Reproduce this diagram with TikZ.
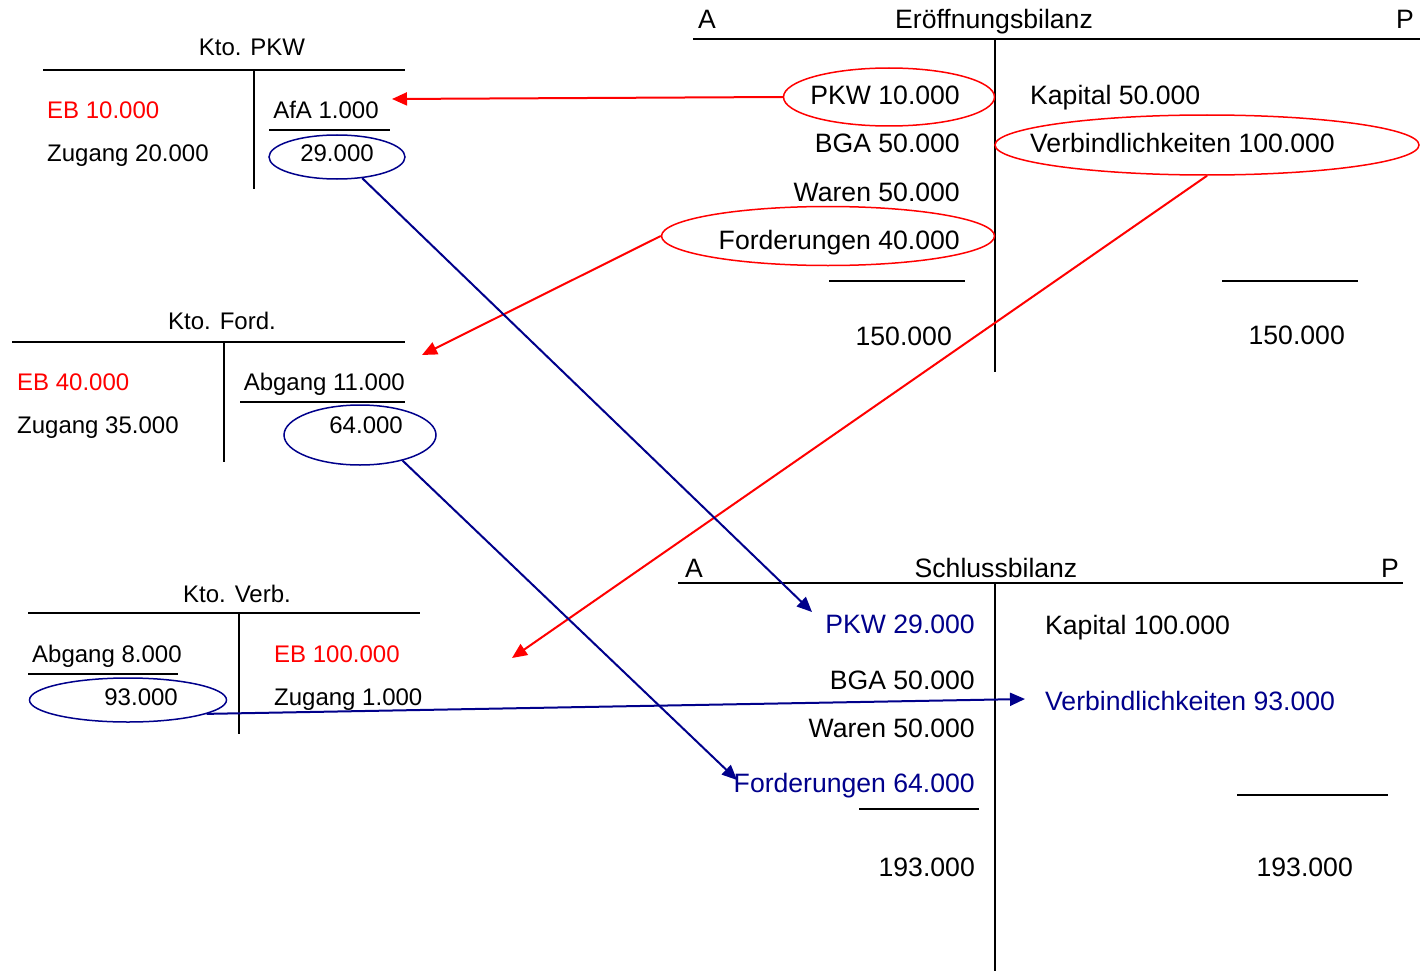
\documentclass[tikz,border=0pt]{standalone}
\usepackage{fontspec}
\setmainfont{Liberation Sans}
\usetikzlibrary{arrows.meta,shapes.geometric}
\definecolor{nav}{RGB}{0,0,139}
\definecolor{rd}{RGB}{255,0,0}
\begin{document}
\begin{tikzpicture}[x=1pt,y=-1pt,
 big/.style={font=\fontsize{26.6}{30}\selectfont,inner sep=0pt},
 sm/.style={font=\fontsize{24}{28}\selectfont,inner sep=0pt},
 rule/.style={line width=1.6pt,black},
 oval/.style={ellipse,draw,line width=1.5pt,inner sep=0pt},
 rarr/.style={line width=2pt,rd,-{Triangle[length=15pt,width=13pt]}},
 barr/.style={line width=2pt,nav,-{Triangle[length=15pt,width=13pt]}},
]
\useasboundingbox (0,0) rectangle (1426,971);

% ---------- Kto. PKW ----------
\node[sm,anchor=base] (tpkw) at (252,56) {Kto. PKW};
\node[sm,anchor=base west,text=rd] (pkweb) at (47,118) {EB 10.000};
\node[sm,anchor=base west] (pkwzu) at (47,161) {Zugang 20.000};
\node[sm,anchor=base] (pkwafa) at (326,118) {AfA 1.000};
\node[sm,anchor=base] (pkw29) at (337,161) {29.000};
\draw[rule] (43,70) -- (405,70);
\draw[rule] (254,70) -- (254,189);
\draw[rule] (269,130) -- (390,130);
\node[oval,nav,minimum width=136pt,minimum height=44pt] (e29) at (337,157) {};

% ---------- Eröffnungsbilanz ----------
\node[big,anchor=base west] (ea) at (698,29) {A};
\node[big,anchor=base] (etitle) at (994,29) {Eröffnungsbilanz};
\node[big,anchor=base east] (ep) at (1414,29) {P};
\draw[rule] (693,39) -- (1420,39);
\draw[rule] (995,39) -- (995,372);
\node[big,anchor=base east] (epkw) at (960,105) {PKW 10.000};
\node[big,anchor=base east] (ebga) at (960,153) {BGA 50.000};
\node[big,anchor=base east] (ewar) at (960,201) {Waren 50.000};
\node[big,anchor=base east] (eford) at (960,249) {Forderungen 40.000};
\node[big,anchor=base west] (ekap) at (1030,105) {Kapital 50.000};
\node[big,anchor=base west] (everb) at (1030,153) {Verbindlichkeiten 100.000};
\draw[rule] (829,281) -- (965,281);
\draw[rule] (1222,281) -- (1358,281);
\node[big,anchor=base east] (esuma) at (952,345) {150.000};
\node[big,anchor=base east] (esump) at (1345,344) {150.000};
\node[oval,rd,minimum width=211pt,minimum height=58pt] (oepkw) at (889,97) {};
\node[oval,rd,minimum width=424pt,minimum height=60pt] (oeverb) at (1207,145) {};
\node[oval,rd,minimum width=333pt,minimum height=59pt] (oeford) at (828,236) {};

% ---------- Kto. Ford. ----------
\node[sm,anchor=base] (tford) at (222,329) {Kto. Ford.};
\draw[rule] (12,342) -- (405,342);
\draw[rule] (224,342) -- (224,462);
\node[sm,anchor=base west,text=rd] (fordeb) at (17,390) {EB 40.000};
\node[sm,anchor=base west] (fordzu) at (17,433) {Zugang 35.000};
\node[sm,anchor=base east] (fordab) at (405,390) {Abgang 11.000};
\draw[rule] (240,402) -- (405,402);
\node[sm,anchor=base east] (ford64) at (403,433) {64.000};
\node[oval,nav,minimum width=152pt,minimum height=60pt] (e64) at (360,435) {};

% ---------- Kto. Verb. ----------
\node[sm,anchor=base] (tverb) at (237,602) {Kto. Verb.};
\draw[rule] (28,613) -- (420,613);
\draw[rule] (239,613) -- (239,734);
\node[sm,anchor=base west] (verbab) at (32,662) {Abgang 8.000};
\draw[rule] (28,674) -- (178,674);
\node[sm,anchor=base east] (verb93) at (178,705) {93.000};
\node[sm,anchor=base west,text=rd] (verbeb) at (274,662) {EB 100.000};
\node[sm,anchor=base west] (verbzu) at (274,705) {Zugang 1.000};
\node[oval,nav,minimum width=197pt,minimum height=44pt] (e93) at (128,700) {};

% ---------- Schlussbilanz ----------
\node[big,anchor=base west] (sa) at (685,577) {A};
\node[big,anchor=base] (stitle) at (996,577) {Schlussbilanz};
\node[big,anchor=base east] (sp) at (1399,577) {P};
\draw[rule] (678,583) -- (1403,583);
\draw[rule] (995,583) -- (995,971);
\node[big,anchor=base east,text=nav] (spkw) at (975,633) {PKW 29.000};
\node[big,anchor=base east] (sbga) at (975,689) {BGA 50.000};
\node[big,anchor=base east] (swar) at (975,737) {Waren 50.000};
\node[big,anchor=base east,text=nav] (sford) at (975,792) {Forderungen 64.000};
\node[big,anchor=base west] (skap) at (1045,634) {Kapital 100.000};
\node[big,anchor=base west,text=nav] (sverb) at (1045,710) {Verbindlichkeiten 93.000};
\draw[rule] (859,809) -- (979,809);
\draw[rule] (1237,795) -- (1388,795);
\node[big,anchor=base east] (ssuma) at (975,876) {193.000};
\node[big,anchor=base east] (ssump) at (1353,876) {193.000};

% ---------- arrow ends ----------
\coordinate (r1) at (392,99);
\coordinate (r2) at (422,355);
\coordinate (r3) at (512,658);
\coordinate (b1) at (812,612);
\coordinate (b2) at (737,780);
\coordinate (b3) at (1025,699);

\draw[rarr] (oepkw.west) -- (r1);
\draw[rarr] (oeford.west) -- (r2);
\draw[rarr] (oeverb.south) -- (r3);
\draw[barr] (e29.-40) -- (b1);
\draw[barr] (e64.-31) -- (b2);
\draw[barr] (e93.-10) -- (b3);
\end{tikzpicture}
\end{document}
